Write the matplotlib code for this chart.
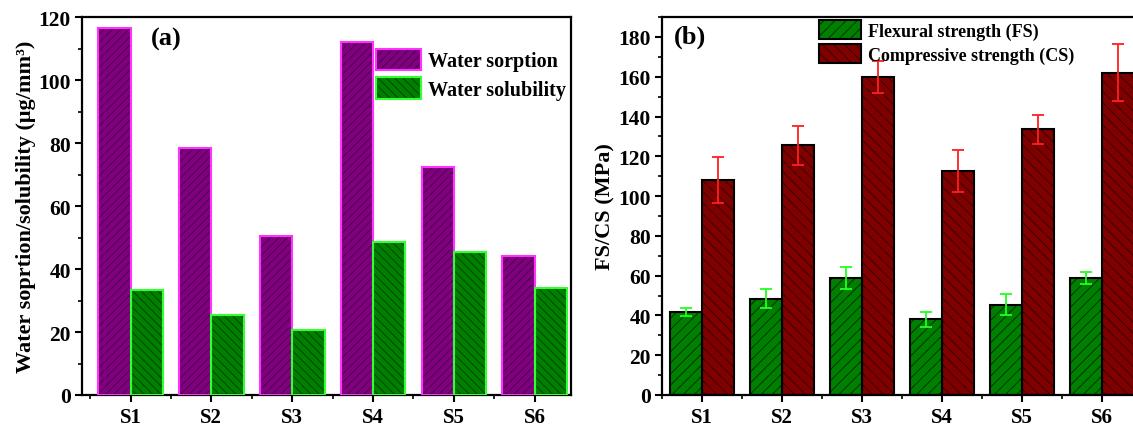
import matplotlib
matplotlib.use("Agg")
import matplotlib.pyplot as plt
import numpy as np
from matplotlib.patches import Patch, Rectangle
from matplotlib.legend_handler import HandlerPatch

categories = ["S1", "S2", "S3", "S4", "S5", "S6"]
water_sorption = [116.5, 78.5, 50.5, 112.0, 72.5, 44.0]
water_solubility = [33.5, 25.5, 20.5, 48.5, 45.5, 34.0]
fs_values = [41.5, 48.5, 59.0, 38.0, 45.5, 59.0]
fs_errors = [2.0, 4.8, 5.5, 3.7, 5.2, 3.0]
cs_values = [108.0, 125.5, 160.0, 112.5, 133.5, 162.0]
cs_errors = [11.7, 9.8, 8.0, 10.5, 7.3, 14.3]

plt.rcParams['font.family'] = ['Liberation Serif', 'DejaVu Serif']
plt.rcParams['font.weight'] = 'bold'
plt.rcParams['hatch.linewidth'] = 0.7

fig = plt.figure(figsize=(11.33, 4.27), dpi=100)
ax1 = fig.add_axes([0.0724, 0.0726, 0.4316, 0.885])
ax2 = fig.add_axes([0.5843, 0.0726, 0.4237, 0.885])

x = np.arange(1, len(categories) + 1)
w = 0.4


def hatched_bar(ax, xpos, vals, fill, hatch, hatchcol, edge, lw=1.5):
    ax.bar(xpos, vals, w, color=fill, edgecolor=hatchcol, hatch=hatch, linewidth=0, zorder=2)
    ax.bar(xpos, vals, w, fill=False, edgecolor=edge, linewidth=lw, zorder=3)


class HP(HandlerPatch):
    def __init__(self, edge):
        super().__init__()
        self.edge = edge

    def create_artists(self, legend, orig_handle, xdescent, ydescent, width, height, fontsize, trans):
        arts = super().create_artists(legend, orig_handle, xdescent, ydescent, width, height, fontsize, trans)
        r = Rectangle((-xdescent, -ydescent), width, height, fill=False,
                      edgecolor=self.edge, linewidth=1.5, transform=trans)
        return arts + [r]


# Panel (a)
hatched_bar(ax1, x - w / 2, water_sorption, '#800080', '////', '#4a004a', '#ff33ff')
hatched_bar(ax1, x + w / 2, water_solubility, '#008000', '\\\\\\\\', '#004400', '#33ff33')
ax1.set_xlim(0.4, 6.45)
ax1.set_ylim(0, 120)
ax1.set_yticks(np.arange(0, 121, 20))
ax1.set_yticks(np.arange(0, 121, 10), minor=True)
ax1.set_xticks(x)
ax1.set_xticklabels(categories)
ax1.set_xticks(np.arange(0.5, 6.45, 1.0), minor=True)
ax1.set_ylabel("Water soprtion/solubility (μg/mm³)", fontsize=16, fontweight='bold',
               labelpad=2)
ax1.text(0.14, 0.975, "(a)", transform=ax1.transAxes, fontsize=19, fontweight='bold',
         va='top', ha='left')
h1 = [Patch(facecolor='#800080', edgecolor='#4a004a', hatch='////', linewidth=0),
      Patch(facecolor='#008000', edgecolor='#004400', hatch='\\\\\\\\', linewidth=0)]
ax1.legend(h1, ["Water sorption", "Water solubility"], loc='upper right',
           bbox_to_anchor=(1.012, 0.945), frameon=False,
           prop={'size': 14.5, 'weight': 'bold'}, handlelength=2.2, handleheight=1.25,
           handletextpad=0.35, labelspacing=0.3, borderaxespad=0.15,
           handler_map={h1[0]: HP('#ff33ff'), h1[1]: HP('#33ff33')})

# Panel (b)
hatched_bar(ax2, x - w / 2, fs_values, '#008000', '///', '#003300', 'black')
hatched_bar(ax2, x + w / 2, cs_values, '#800000', '\\\\\\', '#3a0000', 'black')
ax2.errorbar(x - w / 2, fs_values, yerr=fs_errors, fmt='none', ecolor='#22ff22',
             elinewidth=1.3, capsize=4, capthick=1.3, zorder=4)
ax2.errorbar(x + w / 2, cs_values, yerr=cs_errors, fmt='none', ecolor='#ff2020',
             elinewidth=1.3, capsize=4, capthick=1.3, zorder=4)
ax2.set_xlim(0.5, 6.5)
ax2.set_ylim(0, 190)
ax2.set_yticks(np.arange(0, 181, 20))
ax2.set_yticks(np.arange(0, 191, 10), minor=True)
ax2.set_xticks(x)
ax2.set_xticklabels(categories)
ax2.set_xticks(np.arange(0.5, 6.6, 1.0), minor=True)
ax2.set_ylabel("FS/CS (MPa)", fontsize=16, fontweight='bold', labelpad=2)
ax2.text(0.025, 0.98, "(b)", transform=ax2.transAxes, fontsize=19, fontweight='bold',
         va='top', ha='left')
h2 = [Patch(facecolor='#008000', edgecolor='#003300', hatch='///', linewidth=0),
      Patch(facecolor='#800000', edgecolor='#3a0000', hatch='\\\\\\', linewidth=0)]
ax2.legend(h2, ["Flexural strength (FS)", "Compressive strength (CS)"],
           loc='upper left', bbox_to_anchor=(0.305, 1.02), frameon=False,
           prop={'size': 13, 'weight': 'bold'}, handlelength=2.3, handleheight=1.2,
           handletextpad=0.4, labelspacing=0.25, borderaxespad=0.2,
           handler_map={h2[0]: HP('black'), h2[1]: HP('black')})

for ax in (ax1, ax2):
    for s in ax.spines.values():
        s.set_linewidth(1.6)
    ax.tick_params(axis='both', which='major', direction='out', length=5, width=1.5,
                   labelsize=15.5, pad=3)
    ax.tick_params(axis='x', which='major', pad=4, labelsize=15)
    ax.tick_params(axis='both', which='minor', direction='out', length=3, width=1.2)
    for lab in ax.get_xticklabels() + ax.get_yticklabels():
        lab.set_fontweight('bold')

fig.savefig("out.png", dpi=100)
